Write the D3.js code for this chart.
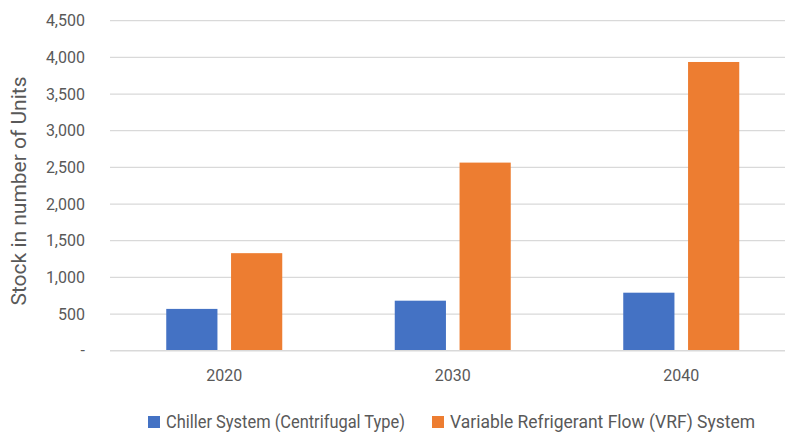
<!DOCTYPE html>
<html>
<head>
<meta charset="utf-8">
<script src="https://cdn.jsdelivr.net/npm/d3@7"></script>
<style>
  html, body { margin: 0; padding: 0; background: #fff; }
  svg text { font-family: Roboto, "Open Sans", sans-serif; fill: #595959; }
</style>
</head>
<body>
<svg id="chart" width="785" height="432"></svg>
<script>
// Stock of HVAC units by year and system type
const years = ["2020", "2030", "2040"];
const seriesNames = ["Chiller System (Centrifugal Type)", "Variable Refrigerant Flow (VRF) System"];
const chillerValues = [570, 682, 791];
const vrfValues = [1330, 2565, 3937];
const yTicks = [0, 500, 1000, 1500, 2000, 2500, 3000, 3500, 4000, 4500];
const colors = ["#4472c4", "#ed7d31"];

const svg = d3.select("#chart");
const plotLeft = 110, plotRight = 795.5, plotTop = 20.7, plotBottom = 350.7;

const x = d3.scaleBand().domain(years).range([plotLeft, plotRight]).paddingInner(0).paddingOuter(0);
const y = d3.scaleLinear().domain([0, 4500]).range([plotBottom, plotTop]);

const fmt = d => d === 0 ? "-" : d3.format(",")(d);

// Horizontal gridlines
svg.append("g").selectAll("line").data(yTicks.filter(d => d > 0)).join("line")
  .attr("x1", plotLeft).attr("x2", plotRight)
  .attr("y1", d => y(d)).attr("y2", d => y(d))
  .attr("stroke", "#d9d9d9").attr("stroke-width", 1.3);

// Value axis labels
svg.append("g").selectAll("text").data(yTicks).join("text")
  .attr("x", 85).attr("y", d => y(d)).attr("dy", "0.35em")
  .attr("text-anchor", "end").attr("font-size", 16)
  .text(fmt);

// Bars
const groupWidth = 116;
const x1 = d3.scaleBand().domain([0, 1]).range([0, groupWidth]).paddingInner(0.21).paddingOuter(0);
const series = [chillerValues, vrfValues];
series.forEach((vals, si) => {
  svg.append("g").selectAll("rect").data(vals).join("rect")
    .attr("x", (d, i) => x(years[i]) + x.bandwidth() / 2 - groupWidth / 2 + x1(si))
    .attr("width", x1.bandwidth())
    .attr("y", d => y(d))
    .attr("height", d => y(0) - y(d))
    .attr("fill", colors[si]);
});

// Category axis line
svg.append("line")
  .attr("x1", plotLeft).attr("x2", plotRight)
  .attr("y1", y(0)).attr("y2", y(0))
  .attr("stroke", "#d9d9d9").attr("stroke-width", 1.5);

// Category labels
svg.append("g").selectAll("text").data(years).join("text")
  .attr("x", d => x(d) + x.bandwidth() / 2).attr("y", 381)
  .attr("text-anchor", "middle").attr("font-size", 16)
  .text(d => d);

// Axis title (narrow setting)
svg.append("text")
  .attr("transform", "translate(26,191) rotate(-90)")
  .attr("text-anchor", "middle").attr("font-size", 21)
  .attr("textLength", 229).attr("lengthAdjust", "spacingAndGlyphs")
  .text("Stock in number of Units");

// Legend
const legendX = [148, 432];
const legendTextWidth = [239, 305];
seriesNames.forEach((name, i) => {
  svg.append("rect").attr("x", legendX[i]).attr("y", 416).attr("width", 12).attr("height", 12).attr("fill", colors[i]);
  svg.append("text").attr("x", legendX[i] + 18).attr("y", 428).attr("font-size", 18)
    .attr("textLength", legendTextWidth[i]).attr("lengthAdjust", "spacingAndGlyphs")
    .text(name);
});
</script>
</body>
</html>
